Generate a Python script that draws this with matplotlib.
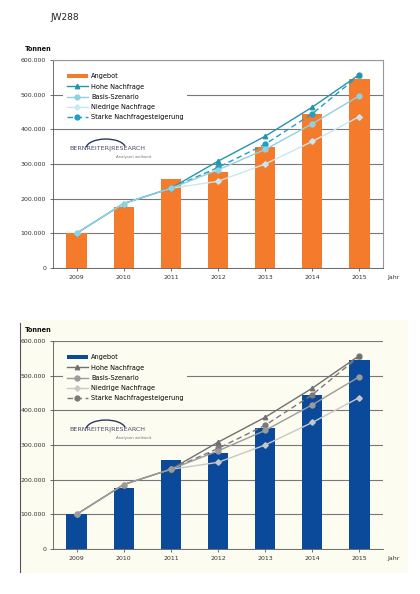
import matplotlib.pyplot as plt
import matplotlib.patches as mpatches
from matplotlib.ticker import FuncFormatter

years = ['2009', '2010', '2011', '2012', '2013', '2014', '2015']
angebot = [100000, 177000, 256000, 278000, 350000, 443000, 546000]
hohe = [100000, 186000, 230000, 308000, 380000, 464000, 558000]
basis = [100000, 186000, 230000, 283000, 342000, 416000, 497000]
niedrige = [100000, 186000, 230000, 250000, 300000, 365000, 437000]
starke_x = [2, 3, 4, 5, 6]
starke = [230000, 290000, 357000, 445000, 556000]

names = ['Angebot', 'Hohe Nachfrage', 'Basis-Szenario', 'Niedrige Nachfrage',
         'Starke Nachfragesteigerung']

W, H = 420, 594
fig = plt.figure(figsize=(W / 100, H / 100), dpi=100)
fig.patch.set_facecolor('white')

fig.text(50 / W, 1 - 18 / H, 'JW288', fontsize=6.5, color='#222222', va='center')

# cream panel behind the lower chart
fig.patches.append(mpatches.Rectangle((20 / W, 1 - 573 / H), 388 / W, 253 / H,
                                      transform=fig.transFigure, facecolor='#fdfcf1',
                                      edgecolor='none', zorder=0))
fig.lines.append(plt.Line2D([20 / W, 20 / W], [1 - 572 / H, 1 - 323 / H],
                            transform=fig.transFigure, color='#555555', lw=0.8))


def german(v, pos):
    return '{:,.0f}'.format(v).replace(',', '.')


def draw(top, bar_col, cols, bg, frame):
    ax = fig.add_axes([53 / W, 1 - (top + 208) / H, 330 / W, 208 / H])
    ax.set_zorder(3)
    ax.set_facecolor(bg)
    x = list(range(len(years)))
    b = ax.bar(x, angebot, width=0.43, color=bar_col, zorder=2)
    l1, = ax.plot(x, hohe, color=cols[0], lw=1.0, marker='^', ms=3.2, zorder=5)
    l2, = ax.plot(x, basis, color=cols[1], lw=1.0, marker='o', ms=3.5, zorder=6)
    l3, = ax.plot(x, niedrige, color=cols[2], lw=1.0, marker='D', ms=2.8, zorder=3)
    l4, = ax.plot(starke_x, starke, color=cols[3], lw=1.0, ls=(0, (4, 2.5)), marker='o',
                  ms=3.5, zorder=4)
    ax.set_xlim(-0.5, 6.5)
    ax.set_ylim(0, 600000)
    ax.set_yticks(range(0, 600001, 100000))
    ax.yaxis.set_major_formatter(FuncFormatter(german))
    ax.set_xticks(x)
    ax.set_xticklabels(years)
    ax.tick_params(labelsize=4.5, length=2, width=0.5, colors='#333333', pad=3)
    ax.grid(axis='y', color='#777777', lw=0.8, zorder=1)
    for s in ['top', 'right']:
        ax.spines[s].set_visible(frame)
        ax.spines[s].set_color('#999999')
    ax.spines['left'].set_color('#555555')
    ax.spines['bottom'].set_color('#555555')
    ax.spines['left'].set_linewidth(0.6)
    ax.spines['bottom'].set_linewidth(0.6)
    ax.text(-0.085, 1.055, 'Tonnen', transform=ax.transAxes, fontsize=4.8,
            fontweight='bold', color='#111111', va='center')
    ax.text(1.012, -0.045, 'Jahr', transform=ax.transAxes, fontsize=4.5,
            color='#333333', va='center')
    leg = ax.legend([b, l1, l2, l3, l4], names, loc='upper left',
                    bbox_to_anchor=(0.02, 0.97), fontsize=4.7,
                    frameon=True, handlelength=3.2, labelspacing=0.65,
                    borderpad=0.6, handletextpad=0.5)
    leg.get_frame().set_facecolor(bg)
    leg.get_frame().set_edgecolor('none')
    leg.get_frame().set_alpha(1)
    # logo
    ax.add_patch(mpatches.Rectangle((0.03, 0.51), 0.33, 0.13, transform=ax.transAxes,
                                    facecolor=bg, edgecolor='none', zorder=6))
    ax.text(0.05, 0.575, 'BERNREITER|RESEARCH', transform=ax.transAxes, fontsize=4.6,
            color='#4a4a6a', va='center', zorder=7)
    ax.text(0.19, 0.535, 'Analysen weltweit', transform=ax.transAxes, fontsize=2.8,
            color='#777777', va='center', zorder=7)
    ax.add_patch(mpatches.Arc((0.16, 0.575), 0.12, 0.09, theta1=10, theta2=175,
                              transform=ax.transAxes, color='#2a3a5a', lw=1.0, zorder=7))
    return ax


draw(60, '#f47a2c', ['#2496ab', '#8fd2e0', '#c9e8f0', '#1fa0c0'], 'white', True)
draw(341, '#0b4a9a', ['#707070', '#9b9b9b', '#c8c8c8', '#7a7a7a'], '#fdfcf1', False)

fig.savefig('out.png', dpi=100)
